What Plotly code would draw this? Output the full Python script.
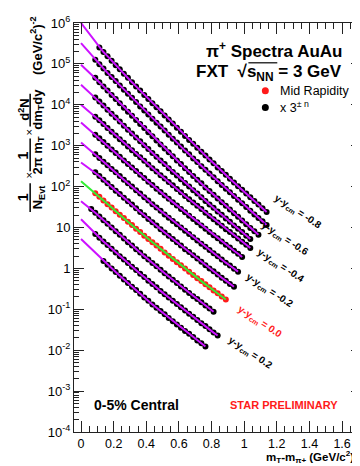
import plotly.graph_objects as go

# ---------------- data ----------------
# bin centres in m_T - m_pi (GeV/c^2)
MT_BINS = [0.0125, 0.0375, 0.0625, 0.0875, 0.1125, 0.1375, 0.1625, 0.1875, 0.2125, 0.2375,
           0.2625, 0.2875, 0.3125, 0.3375, 0.3625, 0.3875, 0.4125, 0.4375, 0.4625, 0.4875,
           0.5125, 0.5375, 0.5625, 0.5875, 0.6125, 0.6375, 0.6625, 0.6875, 0.7125, 0.7375,
           0.7625, 0.7875, 0.8125, 0.8375, 0.8625, 0.8875, 0.9125, 0.9375, 0.9625, 0.9875,
           1.0125, 1.0375, 1.0625, 1.0875, 1.1125, 1.1375]

RAPIDITY = [-0.8, -0.7, -0.6, -0.5, -0.4, -0.3, -0.2, -0.1, 0.0, 0.1, 0.2, 0.3]
FIRST_BIN = [4, 3, 3, 3, 3, 3, 3, 3, 3, 2, 3, 5]
# fit curves value at m_T - m = 0 (log10, scaled spectra)
FIT_AT_ZERO_LOG10 = [6.00, 5.51, 4.98, 4.49, 4.00, 3.57, 3.08, 2.59, 2.13, 1.64, 1.20, 0.72]

# log10 of scaled yields, one list per rapidity slice
LOG10_Y_M08 = [5.40, 5.29, 5.19, 5.08, 4.97, 4.87, 4.76, 4.66, 4.55, 4.45, 4.35, 4.24, 4.14, 4.04,
               3.94, 3.84, 3.74, 3.64, 3.54, 3.44, 3.34, 3.24, 3.14, 3.05, 2.95, 2.85, 2.76, 2.66,
               2.57, 2.47, 2.38, 2.29, 2.19, 2.10, 2.01, 1.92, 1.83, 1.74, 1.65, 1.56, 1.47, 1.38]
LOG10_Y_M07 = [5.10, 4.99, 4.89, 4.78, 4.68, 4.58, 4.47, 4.37, 4.27, 4.17, 4.07, 3.96, 3.86, 3.76,
               3.66, 3.56, 3.47, 3.37, 3.27, 3.17, 3.08, 2.98, 2.88, 2.79, 2.69, 2.60, 2.50, 2.41,
               2.32, 2.23, 2.13, 2.04, 1.95, 1.86, 1.77, 1.68, 1.59, 1.50, 1.41, 1.32, 1.23, 1.15,
               1.06]
LOG10_Y_M06 = [4.66, 4.55, 4.45, 4.35, 4.24, 4.14, 4.04, 3.93, 3.83, 3.73, 3.63, 3.53, 3.43, 3.33,
               3.23, 3.13, 3.03, 2.93, 2.84, 2.74, 2.64, 2.55, 2.45, 2.36, 2.26, 2.17, 2.08, 1.98,
               1.89, 1.80, 1.71, 1.62, 1.53, 1.44, 1.35, 1.26, 1.17, 1.08, 0.99, 0.91, 0.82]
LOG10_Y_M05 = [4.18, 4.08, 3.98, 3.88, 3.78, 3.69, 3.59, 3.49, 3.39, 3.30, 3.20, 3.11, 3.01, 2.92,
               2.82, 2.73, 2.64, 2.55, 2.45, 2.36, 2.27, 2.18, 2.09, 2.00, 1.91, 1.83, 1.74, 1.65,
               1.56, 1.48, 1.39, 1.31, 1.22, 1.14, 1.05, 0.97, 0.89, 0.80, 0.72]
LOG10_Y_M04 = [3.71, 3.62, 3.53, 3.43, 3.34, 3.25, 3.16, 3.07, 2.98, 2.89, 2.80, 2.72, 2.63, 2.54,
               2.45, 2.37, 2.28, 2.20, 2.11, 2.03, 1.94, 1.86, 1.77, 1.69, 1.61, 1.53, 1.45, 1.36,
               1.28, 1.20, 1.12, 1.04, 0.96, 0.89, 0.81, 0.73, 0.65, 0.58, 0.50]
LOG10_Y_M03 = [3.27, 3.18, 3.09, 3.00, 2.91, 2.82, 2.73, 2.64, 2.55, 2.47, 2.38, 2.29, 2.21, 2.12,
               2.04, 1.95, 1.87, 1.78, 1.70, 1.62, 1.54, 1.45, 1.37, 1.29, 1.21, 1.13, 1.05, 0.97,
               0.89, 0.81, 0.74, 0.66, 0.58, 0.51, 0.43, 0.36, 0.28]
LOG10_Y_M02 = [2.79, 2.70, 2.61, 2.52, 2.43, 2.35, 2.26, 2.17, 2.08, 2.00, 1.91, 1.83, 1.74, 1.66,
               1.57, 1.49, 1.41, 1.32, 1.24, 1.16, 1.08, 1.00, 0.92, 0.84, 0.76, 0.68, 0.60, 0.53,
               0.45, 0.37, 0.30, 0.22, 0.14, 0.07, -0.01, -0.08]
LOG10_Y_M01 = [2.35, 2.26, 2.17, 2.08, 1.99, 1.90, 1.82, 1.73, 1.64, 1.56, 1.47, 1.38, 1.30, 1.21,
               1.13, 1.05, 0.96, 0.88, 0.80, 0.72, 0.64, 0.56, 0.47, 0.40, 0.32, 0.24, 0.16, 0.08,
               0.00, -0.07, -0.15, -0.23, -0.30, -0.38, -0.45]
LOG10_Y_000 = [1.84, 1.75, 1.66, 1.57, 1.49, 1.40, 1.31, 1.23, 1.14, 1.06, 0.97, 0.89, 0.80, 0.72,
               0.64, 0.56, 0.48, 0.39, 0.31, 0.23, 0.15, 0.08, 0.00, -0.08, -0.16, -0.24, -0.31,
               -0.39, -0.46, -0.54, -0.61, -0.69, -0.76]
LOG10_Y_P01 = [1.45, 1.36, 1.27, 1.18, 1.09, 1.00, 0.91, 0.82, 0.73, 0.64, 0.56, 0.47, 0.39, 0.30,
               0.22, 0.13, 0.05, -0.03, -0.12, -0.20, -0.28, -0.36, -0.44, -0.52, -0.60, -0.68,
               -0.75, -0.83, -0.91, -0.98, -1.06]
LOG10_Y_P02 = [0.84, 0.75, 0.66, 0.57, 0.48, 0.39, 0.30, 0.22, 0.13, 0.04, -0.04, -0.13, -0.21,
               -0.30, -0.38, -0.46, -0.55, -0.63, -0.71, -0.79, -0.87, -0.95, -1.03, -1.11, -1.18,
               -1.26, -1.34, -1.41, -1.49, -1.57, -1.64]
LOG10_Y_P03 = [0.18, 0.09, 0.00, -0.09, -0.18, -0.27, -0.36, -0.45, -0.53, -0.62, -0.71, -0.79,
               -0.88, -0.96, -1.04, -1.12, -1.21, -1.29, -1.37, -1.45, -1.53, -1.60, -1.68, -1.76,
               -1.83, -1.91]

SERIES_LOG10 = [LOG10_Y_M08, LOG10_Y_M07, LOG10_Y_M06, LOG10_Y_M05, LOG10_Y_M04, LOG10_Y_M03,
                LOG10_Y_M02, LOG10_Y_M01, LOG10_Y_000, LOG10_Y_P01, LOG10_Y_P02, LOG10_Y_P03]

LABELLED = ["-0.8", "-0.6", "-0.4", "-0.2", "0.0", "0.2"]

Y_TICKS = [1e-4, 1e-3, 1e-2, 1e-1, 1, 10, 1e2, 1e3, 1e4, 1e5, 1e6]
Y_TICKTEXT = ["10<sup>-4</sup>", "10<sup>-3</sup>", "10<sup>-2</sup>", "10<sup>-1</sup>", "1", "10",
              "10<sup>2</sup>", "10<sup>3</sup>", "10<sup>4</sup>", "10<sup>5</sup>", "10<sup>6</sup>"]

# ---------------- styling ----------------
FONT = "Liberation Sans, Arial, Helvetica, sans-serif"
W, H = 360, 466
PL, PR, PT, PB = 66, 354, 13, 424
MAGENTA = "#cc11ff"
GREEN = "#33ee33"
RED = "#ff1a1a"
AXC = "#222222"


def px_x(px):
    return (px - PL) / (PR - PL)


def px_y(py):
    return (PB - py) / (PB - PT)


fig = go.Figure()
for i, vals in enumerate(SERIES_LOG10):
    k0 = FIRST_BIN[i]
    x = MT_BINS[k0:k0 + len(vals)]
    y = [10 ** v for v in vals]
    mid = RAPIDITY[i] == 0.0
    fig.add_trace(go.Scatter(
        x=x, y=y, mode="markers",
        marker=dict(size=6, color=RED if mid else "black", line=dict(width=0)),
        showlegend=False, hoverinfo="skip"))
    fig.add_trace(go.Scatter(
        x=[0.0] + x, y=[10 ** FIT_AT_ZERO_LOG10[i]] + y, mode="lines",
        line=dict(color=GREEN if mid else MAGENTA, width=2),
        showlegend=False, hoverinfo="skip"))

ann = []
shapes = []

# rapidity labels (centre in pixel coordinates)
label_px = {"-0.8": (291, 203), "-0.6": (278, 230), "-0.4": (274, 257),
            "-0.2": (263, 282), "0.0": (253, 313), "0.2": (243, 345)}
for lab in LABELLED:
    cx, cy = label_px[lab]
    ann.append(dict(xref="paper", yref="paper", x=px_x(cx), y=px_y(cy),
                    text="<b>y-y<sub>cm</sub> = %s</b>" % lab, showarrow=False,
                    textangle=33, xanchor="center", yanchor="middle",
                    font=dict(family=FONT, size=10, color=RED if lab == "0.0" else "black")))

# titles
ann.append(dict(xref="paper", yref="paper", x=px_x(337), y=px_y(40), xanchor="right", yanchor="middle",
                text="<b>π<sup>+</sup> Spectra AuAu</b>", showarrow=False,
                font=dict(family=FONT, size=17, color="black")))
ann.append(dict(xref="paper", yref="paper", x=px_x(337), y=px_y(63), xanchor="right", yanchor="middle",
                text="<b>FXT  √s<sub>NN</sub> = 3 GeV</b>", showarrow=False,
                font=dict(family=FONT, size=17, color="black")))
# overline of the square root
shapes.append(dict(type="line", xref="paper", yref="paper", x0=px_x(241), x1=px_x(270),
                   y0=px_y(53), y1=px_y(53), line=dict(color="black", width=1.2)))
# legend
ann.append(dict(xref="paper", yref="paper", x=px_x(271), y=px_y(81), xanchor="left", yanchor="middle",
                text="Mid Rapidity", showarrow=False, font=dict(family=FONT, size=12.5, color="black")))
ann.append(dict(xref="paper", yref="paper", x=px_x(271), y=px_y(97), xanchor="left", yanchor="middle",
                text="x 3<sup>± n</sup>", showarrow=False, font=dict(family=FONT, size=12.5, color="black")))
for (cx, cy, col) in [(258, 81, RED), (258, 98, "black")]:
    shapes.append(dict(type="circle", xref="paper", yref="paper", xsizemode="pixel", ysizemode="pixel",
                       xanchor=px_x(cx), yanchor=px_y(cy), x0=-3.5, x1=3.5, y0=-3.5, y1=3.5,
                       fillcolor=col, line=dict(width=0)))

ann.append(dict(xref="paper", yref="paper", x=px_x(84), y=px_y(397), xanchor="left", yanchor="middle",
                text="<b>0-5% Central</b>", showarrow=False, font=dict(family=FONT, size=14, color="black")))
ann.append(dict(xref="paper", yref="paper", x=px_x(221), y=px_y(397), xanchor="left", yanchor="middle",
                text="<b>STAR PRELIMINARY</b>", showarrow=False, font=dict(family=FONT, size=11, color=RED)))

# x-axis title
ann.append(dict(xref="paper", yref="paper", x=px_x(258), y=px_y(449), xanchor="left", yanchor="middle",
                text="<b>m<sub>T</sub>-m<sub>π+</sub> (GeV/c<sup>2</sup>)</b>", showarrow=False,
                borderpad=0,
                font=dict(family=FONT, size=11.5, color="black")))

# y-axis title built from pieces (rotated)
ytitle = [
    ("<b>(GeV/c<sup>2</sup>)<sup>-2</sup></b>", 28, 36, 13),
    ("<b>d<sup>2</sup>N</b>", 15, 100, 13),
    ("<b>dm<sub>T</sub>dy</b>", 30, 100, 13),
    ("×", 21, 123, 11),
    ("<b>1</b>", 15, 146, 14),
    ("<b>2π m<sub>T</sub></b>", 30, 146, 13),
    ("×", 21, 166, 11),
    ("<b>1</b>", 15, 188, 14),
    ("<b>N<sub>Evt</sub></b>", 30, 188, 13),
]
for txt, cx, cy, fs in ytitle:
    ann.append(dict(xref="paper", yref="paper", x=px_x(cx), y=px_y(cy), xanchor="center", yanchor="middle",
                    text=txt, showarrow=False, textangle=-90,
                    font=dict(family=FONT, size=fs, color="black")))
for (bx, y0, y1) in [(22, 84, 117), (22, 129, 162), (22, 174, 203)]:
    shapes.append(dict(type="line", xref="paper", yref="paper", x0=px_x(bx), x1=px_x(bx),
                       y0=px_y(y0), y1=px_y(y1), line=dict(color="black", width=1.5)))

fig.update_layout(
    width=W, height=H, autosize=False,
    margin=dict(l=PL, r=W - PR, t=PT, b=H - PB, pad=0),
    paper_bgcolor="white", plot_bgcolor="white",
    showlegend=False,
    annotations=ann, shapes=shapes,
    xaxis=dict(range=[-0.043, 1.716], showline=True, linecolor=AXC, linewidth=1, mirror="allticks",
               ticks="inside", ticklen=11, tickcolor=AXC, tickwidth=1, tick0=0, dtick=0.2,
               minor=dict(dtick=0.05, ticks="inside", ticklen=6, tickcolor=AXC, tickwidth=1),
               showgrid=False, zeroline=False,
               tickfont=dict(family=FONT, size=12.5, color="black")),
    yaxis=dict(type="log", range=[-4, 6], showline=True, linecolor=AXC, linewidth=1, mirror="allticks",
               ticks="inside", ticklen=10, tickcolor=AXC, tickwidth=1,
               tickmode="array", tickvals=Y_TICKS, ticktext=Y_TICKTEXT,
               minor=dict(dtick="D1", ticks="inside", ticklen=5, tickcolor=AXC, tickwidth=1),
               showgrid=False, zeroline=False,
               tickfont=dict(family=FONT, size=13, color="black")),
)

fig.write_html("out.html")
